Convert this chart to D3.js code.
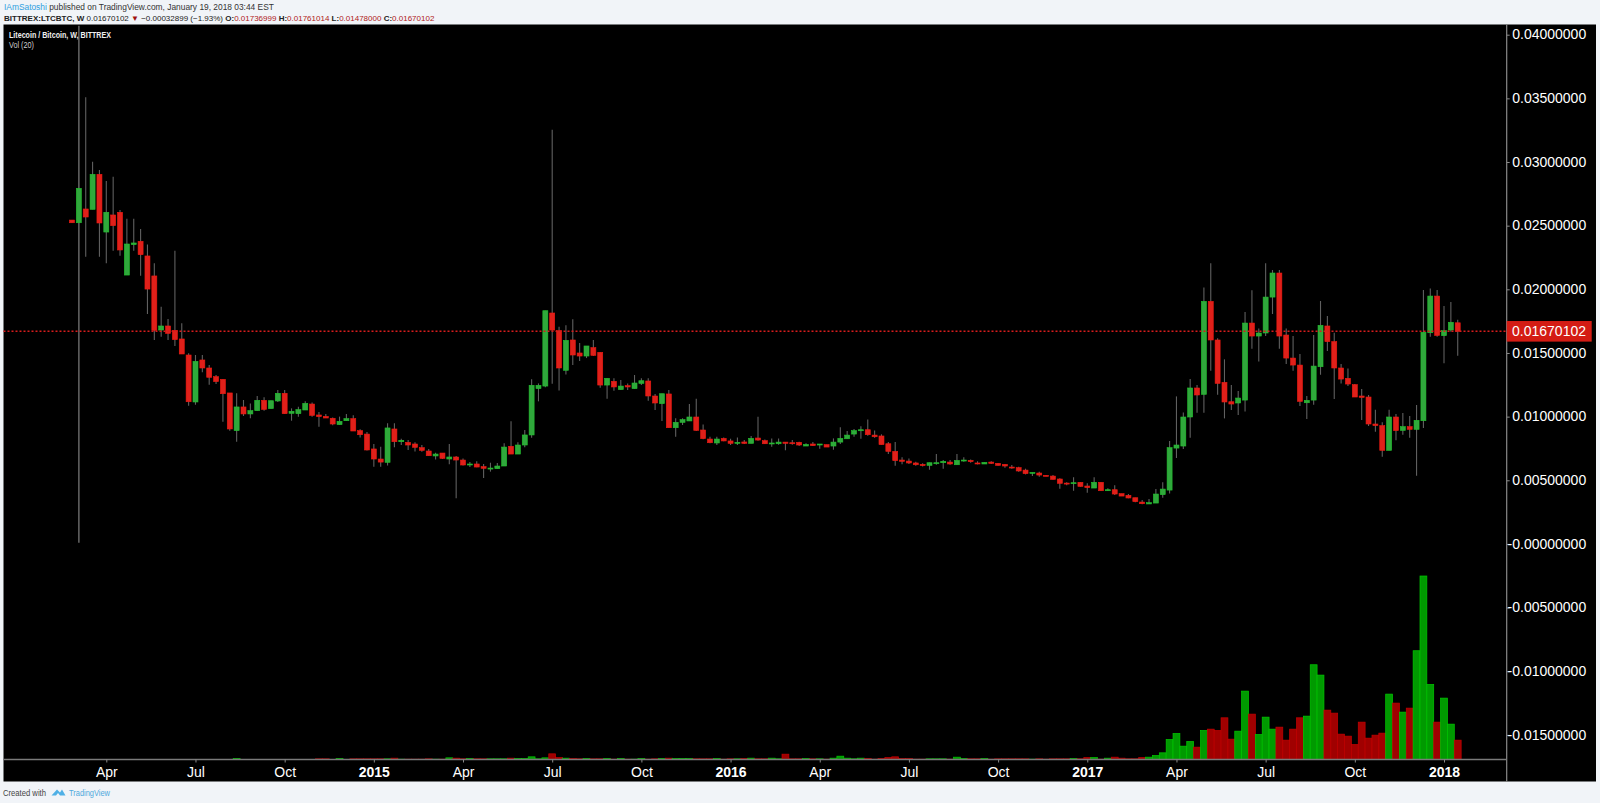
<!DOCTYPE html>
<html><head><meta charset="utf-8">
<script src="https://cdn.jsdelivr.net/npm/d3@7"></script>
<style>html,body{margin:0;padding:0;background:#f1f4f8;overflow:hidden}svg{display:block}text{font-family:"Liberation Sans",Arial,sans-serif}</style>
</head><body><svg id="c" width="1600" height="803"></svg>
<script>
// Weekly LTC/BTC candles, values in units of 0.00001 BTC
const firstWeek = "2014-03-03";
const opens = [2544,2523,2631,2628,2903,2450,2584,2605,2112,2351,2377,2262,2105,1680,1712,1678,1610,1484,1115,1445,1382,1314,1293,1186,890,1076,1021,1047,1128,1063,1123,1183,1026,1023,1052,1099,1013,1002,987,937,968,984,890,863,746,667,641,903,
803,798,785,756,730,691,714,667,683,659,620,628,607,589,591,612,767,706,777,856,1220,1240,1814,1675,1364,1602,1500,1476,1542,1505,1248,1277,1212,1243,1220,1261,1280,1162,1102,1178,913,955,966,997,895,824,793,829,809,790,801,
790,832,811,787,787,800,795,798,769,785,777,780,769,800,826,863,890,897,855,848,787,727,659,651,636,625,617,630,638,643,622,654,656,636,628,643,633,625,604,599,580,554,557,539,533,510,478,473,484,455,439,484,418,426,395,382,363,
329,314,321,387,423,753,769,997,1225,1175,1905,1602,1269,1117,1107,1130,1735,1633,1657,1939,2128,1641,1460,1405,1109,1130,1392,1712,1589,1382,1301,1251,1162,1154,942,929,735,997,892,921,900,968,1659,1947,1636,1680,1737];
const highs = [2544,4070,3508,3002,2937,2851,2885,2623,2555,2555,2474,2353,2204,1864,1767,2303,1733,1497,1484,1484,1406,1327,1293,1186,1183,1131,1104,1162,1152,1125,1209,1209,1065,1078,1120,1110,1036,1021,994,1000,1021,1010,900,879,785,764,947,947,
827,816,798,777,746,717,714,785,691,672,643,649,628,638,636,790,963,798,895,1293,1261,1832,3254,1706,1717,1764,1578,1555,1602,1505,1301,1301,1288,1261,1327,1301,1301,1178,1180,1209,987,987,1099,1141,939,842,842,837,827,837,816,
848,999,821,829,829,800,816,803,790,800,785,780,829,916,887,903,924,978,892,861,800,800,680,672,646,633,638,706,659,659,706,680,664,649,641,649,633,625,620,607,591,562,567,539,541,515,484,523,484,476,523,484,437,460,395,392,363,
345,353,431,484,808,1159,1033,1295,1248,2015,2204,1615,1450,1248,1201,1822,1992,1693,2204,2151,2151,1693,1633,1492,1162,1641,1908,1790,1659,1413,1379,1256,1217,1170,1054,955,1054,1020,1028,1005,1091,1994,2007,1994,1869,1900,1761];
const lows = [2523,10,2256,2628,2256,2204,2303,2264,2112,2303,2107,1806,1602,1628,1602,1555,1492,1086,1094,1348,1251,1256,960,890,803,1005,987,1047,1047,1063,1115,1023,968,1000,1052,1000,921,989,932,937,968,887,837,733,607,607,617,759,
777,738,727,725,693,664,667,625,358,617,604,602,518,568,591,612,706,706,759,835,1120,1230,1259,1206,1330,1405,1437,1460,1476,1227,1141,1204,1212,1209,1220,1248,1125,1052,966,913,842,934,966,887,822,790,777,806,777,777,785,
790,811,785,764,780,735,780,769,769,769,748,761,740,785,826,842,827,850,835,780,706,615,625,628,615,609,583,622,591,622,622,646,638,625,628,628,617,599,591,567,546,533,528,531,507,434,460,418,450,403,439,418,416,384,376,358,327,
311,314,321,363,397,675,745,835,1031,1031,1361,1172,986,1052,1013,1041,1534,1434,1633,1806,1534,1413,1361,1083,981,1094,1329,1515,1138,1261,1240,1154,973,926,882,685,735,814,858,835,536,910,1628,1628,1419,1667,1478];
const closes = [2523,2793,2568,2903,2521,2605,2500,2309,2356,2364,2272,2002,1678,1712,1654,1605,1492,1117,1434,1382,1309,1275,1180,903,1076,1021,1047,1128,1057,1125,1183,1023,1042,1055,1104,1010,1000,989,942,963,984,887,858,738,667,643,911,803,
814,777,759,735,693,706,672,683,659,620,628,604,594,596,612,761,706,777,856,1246,1246,1832,1680,1382,1599,1484,1476,1555,1481,1248,1301,1233,1240,1233,1264,1282,1162,1107,1180,913,955,976,997,892,827,795,824,809,790,798,790,
829,816,787,793,800,790,787,777,782,772,785,761,800,829,855,890,897,858,842,780,727,654,649,636,622,615,638,638,649,628,656,659,646,628,641,633,617,612,599,573,552,562,541,531,507,476,471,481,452,442,484,418,426,392,376,361,332,
316,324,392,431,756,777,997,1225,1170,1905,1602,1261,1115,1099,1146,1735,1633,1657,1939,2128,1633,1460,1405,1120,1128,1397,1717,1589,1382,1295,1256,1154,1151,942,929,735,997,890,921,900,971,1662,1947,1638,1675,1741,1670];
const volumes = [0,0,0,0,0,0,0,0,0,0,0,0,0,0,0,0,0,0,0,0,0,0,0,0,3,0,0,0,0,0,0,0,0,0,0,0,2,2,0,3,0,2,2,2,2,2,2,4,1,1,1,1,2,1,1,5,4,2,3,2,2,2,2,2,4,3,3,8,2,5,17,6,4,3,2,3,2,2,3,1,3,1,1,3,1,2,3,4,3,3,3,2,2,2,3,1,2,2,3,4,2,2,4,2,16,2,2,3,2,2,1,4,10,4,2,4,3,1,3,6,8,3,3,1,1,2,2,2,1,7,3,2,2,3,1,2,2,2,2,2,1,2,1,2,2,2,3,2,6,6,1,4,7,4,2,2,6,7,12,20,60,78,40,54,37,87,91,87,125,61,85,205,136,75,127,91,97,58,91,125,130,284,253,148,139,76,70,45,112,64,73,79,196,169,142,154,326,550,225,112,184,106,58];
const priceTicks = [0.04,0.035,0.03,0.025,0.02,0.015,0.01,0.005,0,-0.005,-0.01,-0.015];
const priceLabels = ["0.04000000","0.03500000","0.03000000","0.02500000","0.02000000","0.01500000","0.01000000","0.00500000","-0.00000000","-0.00500000","-0.01000000","-0.01500000"];
const timeTicks = ["2014-04-07","2014-07-07","2014-10-06","2015-01-05","2015-04-06","2015-07-06","2015-10-05","2016-01-04","2016-04-04","2016-07-04","2016-10-03","2017-01-02","2017-04-03","2017-07-03","2017-10-02","2018-01-01"];
const timeLabels = ["Apr","Jul","Oct","2015","Apr","Jul","Oct","2016","Apr","Jul","Oct","2017","Apr","Jul","Oct","2018"];
const lastPrice = 0.01670102;
const UNIT = 1e-5;

const start = new Date(firstWeek+"T00:00:00Z");
const dates = opens.map((_,i)=>d3.utcWeek.offset(start,i));
const candles = dates.map((d,i)=>({d,o:opens[i]*UNIT,h:highs[i]*UNIT,l:lows[i]*UNIT,c:closes[i]*UNIT,v:volumes[i],up:closes[i]>=opens[i]}));

const svg = d3.select("#c");
const paneL=3.5, paneR=1596, paneT=24.5, paneB=781.5, axisX=1506.7, baseY=759.5;
const x = d3.scaleUtc().domain([dates[0],dates[dates.length-1]]).range([72,72+6.86*(dates.length-1)]);
const y = d3.scaleLinear().domain([0.04,-0.015]).range([34.7,734.9]);
const yVol = d3.scaleLinear().domain([0,550]).range([baseY,576]);

svg.append("rect").attr("x",paneL).attr("y",paneT).attr("width",paneR-paneL).attr("height",paneB-paneT).attr("fill","#000");
svg.append("defs").append("clipPath").attr("id","plot").append("rect").attr("x",paneL).attr("y",paneT).attr("width",axisX-paneL).attr("height",baseY-paneT);

// volume
const bw=6.86;
svg.append("g").attr("clip-path","url(#plot)").selectAll("rect").data(candles.filter(c=>c.v>0)).join("rect")
  .attr("x",c=>x(c.d)-bw/2).attr("width",bw).attr("y",c=>yVol(c.v)).attr("height",c=>baseY-yVol(c.v))
  .attr("fill",c=>c.up?"#009a00":"#a00000").attr("stroke",c=>c.up?"#00c800":"#c40000").attr("stroke-width",.7);

// candles
const gc = svg.append("g").attr("clip-path","url(#plot)");
gc.selectAll("line").data(candles).join("line")
  .attr("x1",c=>x(c.d)).attr("x2",c=>x(c.d)).attr("y1",c=>y(c.h)).attr("y2",c=>y(c.l))
  .attr("stroke","#606060").attr("stroke-width",(c,i)=>i===1?1.6:1.1);
gc.selectAll("rect").data(candles).join("rect")
  .attr("x",c=>x(c.d)-2.5).attr("width",5)
  .attr("y",c=>y(Math.max(c.o,c.c)))
  .attr("height",c=>Math.max(1,y(Math.min(c.o,c.c))-y(Math.max(c.o,c.c))))
  .attr("fill",c=>c.up?"#30a83c":"#e0201a").attr("stroke",c=>c.up?"#22c42e":"#f01a12").attr("stroke-width",.6);

// last price line
svg.append("line").attr("x1",paneL).attr("x2",axisX).attr("y1",y(lastPrice)).attr("y2",y(lastPrice))
  .attr("stroke","#d81c1c").attr("stroke-width",1.5).attr("stroke-dasharray","2,2");

// axes
const ay = d3.axisRight(y).tickValues(priceTicks).tickSize(3).tickFormat((d,i)=>priceLabels[i]);
const gy = svg.append("g").attr("transform",`translate(${axisX},0)`).call(ay);
gy.select(".domain").attr("d",`M0,${paneT}V${paneB}`).attr("stroke","#8a8a8a").attr("stroke-width",1.2);
gy.selectAll("line").attr("stroke","#8a8a8a");
gy.selectAll("text").attr("x",79.5).attr("dy","0.3em").attr("text-anchor","end").attr("fill","#fff").style("font-size","14px").style("font-family",'"Liberation Sans"');

const ax = d3.axisBottom(x).tickValues(timeTicks.map(t=>new Date(t+"T00:00:00Z"))).tickSize(3).tickFormat((d,i)=>timeLabels[i]);
const gx = svg.append("g").attr("transform",`translate(0,${baseY})`).call(ax);
gx.select(".domain").attr("d",`M${paneL},0H${axisX}`).attr("stroke","#7a7a7a").attr("stroke-width",1.4);
gx.selectAll("line").attr("stroke","#8a8a8a");
gx.selectAll("text").attr("y",13.3).attr("dy",".32em").attr("fill","#fff").style("font-size","14px").style("font-family",'"Liberation Sans"')
  .style("font-weight",(d,i)=>/^\d/.test(timeLabels[i])?"bold":"normal");

// last price tag
svg.append("rect").attr("x",axisX).attr("y",y(lastPrice)-10.3).attr("width",85).attr("height",20.6).attr("fill","#d41c14");
svg.append("text").attr("x",1586).attr("y",y(lastPrice)+5).attr("text-anchor","end").attr("fill","#fff").style("font-size","14px").text(lastPrice.toFixed(8));

// legend
const t=(px,py,sz,col,w)=>svg.append("text").attr("x",px).attr("y",py).attr("fill",col).style("font-size",sz+"px").style("font-weight",w||"normal");
t(9,38,8.5,"#f0f0f0","bold").attr("textLength",102).attr("lengthAdjust","spacingAndGlyphs").text("Litecoin / Bitcoin, W, BITTREX");
t(9,48,8.5,"#d0d0d0").attr("textLength",25).attr("lengthAdjust","spacingAndGlyphs").text("Vol (20)");

// header
const h1=t(4,10,8.4,"#333");
h1.append("tspan").attr("fill","#2f9fe0").text("IAmSatoshi");
h1.append("tspan").text(" published on TradingView.com, January 19, 2018 03:44 EST");
const h2=t(4,20.5,8,"#222");
h2.append("tspan").style("font-weight","700").text("BITTREX:LTCBTC, W  ");
h2.append("tspan").text("0.01670102 ");
h2.append("tspan").attr("fill","#a01010").text("▼");
h2.append("tspan").text(" −0.00032899 (−1.93%) ");
[["O:","0.01736999"],["H:","0.01761014"],["L:","0.01478000"],["C:","0.01670102"]].forEach(p=>{
  h2.append("tspan").style("font-weight","700").text(p[0]);
  h2.append("tspan").attr("fill","#b02020").text(p[1]+" ");
});

// footer
t(3,796,8.8,"#444").attr("textLength",43).attr("lengthAdjust","spacingAndGlyphs").text("Created with");
svg.append("path").attr("d","M51.5,795.5 L57,789.5 L60,792.5 L62,789.5 L65.5,795.5 L60,795.5 L58,793 L56,795.5 Z").attr("fill","#4fb0e6");
t(69,796,8.8,"#4fa8dc").attr("textLength",41).attr("lengthAdjust","spacingAndGlyphs").text("TradingView");
</script></body></html>
